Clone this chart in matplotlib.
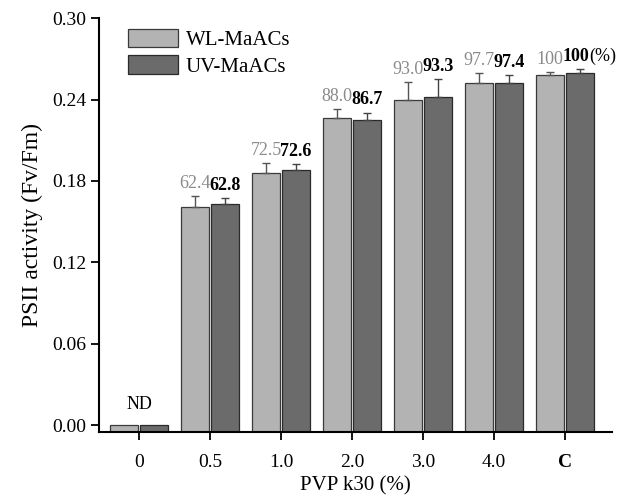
import numpy as np
import matplotlib
matplotlib.use("Agg")
import matplotlib.pyplot as plt

plt.rcParams['font.family'] = ['Liberation Serif', 'DejaVu Serif']

# data
categories = ['0', '0.5', '1.0', '2.0', '3.0', '4.0', 'C']
wl = [0.0, 0.161, 0.186, 0.2265, 0.2395, 0.252, 0.258]
wl_err = [0.0, 0.008, 0.0074, 0.0064, 0.0135, 0.0074, 0.002]
uv = [0.0, 0.163, 0.188, 0.225, 0.2417, 0.2523, 0.2592]
uv_err = [0.0, 0.0044, 0.0044, 0.0054, 0.0133, 0.006, 0.003]
wl_pct = ['', '62.4', '72.5', '88.0', '93.0', '97.7', '100']
uv_pct = ['', '62.8', '72.6', '86.7', '93.3', '97.4', '100']

light = '#b3b3b3'
dark = '#6b6b6b'
ymin = -0.005

fig = plt.figure(figsize=(6.32, 5.04), dpi=100)
ax = fig.add_axes([0.157, 0.143, 0.811, 0.821])

x = np.arange(len(categories))
w = 0.39
off = 0.21
wl = np.array(wl); uv = np.array(uv)
ax.bar(x - off, wl - ymin, w, bottom=ymin, color=light, edgecolor='#3a3a3a',
       linewidth=0.9, label='WL-MaACs', zorder=2)
ax.bar(x + off, uv - ymin, w, bottom=ymin, color=dark, edgecolor='#2a2a2a',
       linewidth=0.9, label='UV-MaACs', zorder=2)

m = x > 0
ax.errorbar(x[m] - off, wl[m], yerr=[np.zeros(m.sum()), np.array(wl_err)[m]],
            fmt='none', ecolor='#555555', elinewidth=1, capsize=3, capthick=1, zorder=3)
ax.errorbar(x[m] + off, uv[m], yerr=[np.zeros(m.sum()), np.array(uv_err)[m]],
            fmt='none', ecolor='#444444', elinewidth=1, capsize=3, capthick=1, zorder=3)

for i in x[m]:
    ax.annotate(wl_pct[i], (i - off, wl[i] + wl_err[i]), xytext=(0, 3),
                textcoords='offset points', ha='center', va='bottom',
                fontsize=13, color='#8a8a8a')
    if categories[i] == 'C':
        ax.annotate(uv_pct[i], (i + off, uv[i] + uv_err[i]), xytext=(-3, 3),
                    textcoords='offset points', ha='center', va='bottom',
                    fontsize=13, color='black', fontweight='bold')
        ax.annotate('(%)', (i + off, uv[i] + uv_err[i]), xytext=(7, 3),
                    textcoords='offset points', ha='left', va='bottom',
                    fontsize=13, color='black')
    else:
        ax.annotate(uv_pct[i], (i + off, uv[i] + uv_err[i]), xytext=(0, 3),
                    textcoords='offset points', ha='center', va='bottom',
                    fontsize=13, color='black', fontweight='bold')

ax.annotate('ND', (0, 0), xytext=(0, 9), textcoords='offset points',
            ha='center', va='bottom', fontsize=13)

ax.set_xlim(-0.563, 6.66)
ax.set_ylim(ymin, 0.30)
ax.set_yticks(np.arange(0, 0.301, 0.06))
ax.set_yticklabels([f'{v:.2f}' for v in np.arange(0, 0.301, 0.06)])
ax.set_xticks(x)
ax.set_xticklabels(categories)
ax.get_xticklabels()[-1].set_fontweight('bold')
ax.tick_params(axis='both', direction='out', length=6, width=1.3, labelsize=14)
ax.tick_params(axis='x', pad=10)
for s in ['top', 'right']:
    ax.spines[s].set_visible(False)
for s in ['left', 'bottom']:
    ax.spines[s].set_linewidth(1.5)
ax.spines['left'].set_bounds(ymin, 0.30)

ax.set_xlabel('PVP k30 (%)', fontsize=15)
ax.set_ylabel('PSII activity (Fv/Fm)', fontsize=17, labelpad=6)

ax.legend(loc='upper left', bbox_to_anchor=(0.035, 1.0), frameon=False,
          fontsize=15, handlelength=2.4, handleheight=1.0, labelspacing=0.25,
          handletextpad=0.4, borderaxespad=0, borderpad=0.5)

fig.savefig('out.png', dpi=100)
